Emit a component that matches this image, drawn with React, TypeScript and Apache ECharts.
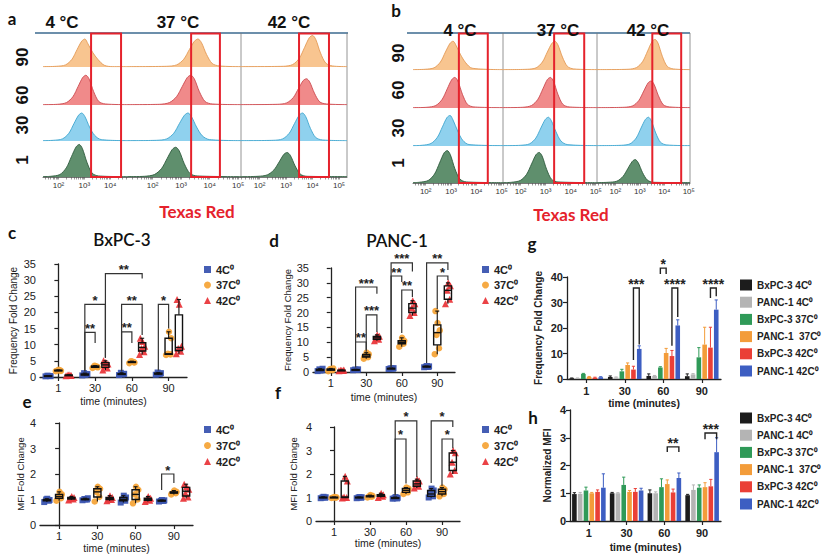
import React, { useEffect, useRef } from "react";
import * as echarts from "echarts";

const FONT = "'Liberation Sans', Arial, sans-serif";
const TITLE_FONT = "Lato, 'Open Sans', sans-serif";

// ---------- labels ----------
const TIMES = ["1", "30", "60", "90"];
const ROW_LABELS = ["90", "60", "30", "1"];
const TEMP_LABELS = ["4 °C", "37 °C", "42 °C"];
const DECADE_LABELS: Record<number, string> = { 2: "10²", 3: "10³", 4: "10⁴", 5: "10⁵" };
const GROUPS = ["4C⁰", "37C⁰", "42C⁰"];
const CELL_TEMP = ["BxPC-3 4C⁰", "PANC-1 4C⁰", "BxPC-3 37C⁰", "PANC-1  37C⁰", "BxPC-3 42C⁰", "PANC-1 42C⁰"];

// ---------- flow histograms: [log10 intensity, relative count], rows 90,60,30,1 ----------
const HIST_A_4C = [
  [[1.4,0.01],[1.92,0.02],[2.27,0.06],[2.52,0.22],[2.72,0.5],[2.9,0.74],[3.02,0.8],[3.14,0.66],[3.32,0.42],[3.52,0.22],[3.77,0.05],[4.1,0.01],[4.65,0.01]],
  [[1.4,0.01],[1.96,0.02],[2.31,0.07],[2.56,0.24],[2.76,0.53],[2.94,0.79],[3.06,0.85],[3.18,0.75],[3.36,0.38],[3.56,0.1],[3.81,0.03],[4.65,0.01]],
  [[1.4,0.01],[1.8,0.02],[2.15,0.06],[2.4,0.22],[2.6,0.5],[2.78,0.74],[2.9,0.8],[3.02,0.7],[3.2,0.4],[3.4,0.16],[3.65,0.04],[4.65,0.01]],
  [[1.4,0.01],[1.7,0.02],[2.05,0.07],[2.3,0.26],[2.5,0.58],[2.68,0.86],[2.8,0.93],[2.92,0.82],[3.1,0.42],[3.3,0.11],[3.55,0.03],[4.65,0.01]],
];
const HIST_A_37C = [
  [[1.1,0.01],[2.49,0.02],[2.84,0.06],[3.09,0.22],[3.29,0.5],[3.47,0.74],[3.59,0.8],[3.71,0.7],[3.89,0.36],[4.09,0.1],[4.34,0.03],[5.1,0.01]],
  [[1.1,0.01],[2.24,0.02],[2.59,0.07],[2.84,0.24],[3.04,0.53],[3.22,0.79],[3.34,0.85],[3.46,0.75],[3.64,0.38],[3.84,0.1],[4.09,0.03],[5.1,0.01]],
  [[1.1,0.01],[2.14,0.02],[2.49,0.06],[2.74,0.22],[2.94,0.5],[3.12,0.74],[3.24,0.8],[3.36,0.7],[3.54,0.4],[3.74,0.15],[3.99,0.04],[5.1,0.01]],
  [[1.1,0.01],[1.71,0.02],[2.06,0.07],[2.31,0.24],[2.51,0.53],[2.69,0.79],[2.81,0.85],[2.93,0.75],[3.11,0.38],[3.31,0.1],[3.56,0.03],[5.1,0.01]],
];
const HIST_A_42C = [
  [[1.3,0.01],[2.9,0.02],[3.25,0.07],[3.5,0.25],[3.7,0.56],[3.88,0.84],[4.0,0.9],[4.12,0.79],[4.3,0.4],[4.5,0.11],[4.75,0.03],[5.3,0.01]],
  [[1.3,0.01],[2.67,0.02],[3.02,0.06],[3.27,0.21],[3.47,0.47],[3.65,0.7],[3.77,0.75],[3.89,0.66],[4.07,0.34],[4.27,0.09],[4.52,0.03],[5.3,0.01]],
  [[1.3,0.01],[2.52,0.02],[2.87,0.06],[3.12,0.22],[3.32,0.5],[3.5,0.74],[3.62,0.8],[3.74,0.7],[3.92,0.36],[4.12,0.1],[4.37,0.03],[5.3,0.01]],
  [[1.3,0.01],[1.94,0.02],[2.29,0.06],[2.54,0.2],[2.74,0.43],[2.92,0.65],[3.04,0.7],[3.16,0.62],[3.34,0.32],[3.54,0.08],[3.79,0.02],[5.3,0.01]],
];
const HIST_B_4C = [
  [[1.5,0.01],[1.98,0.02],[2.33,0.06],[2.58,0.22],[2.78,0.5],[2.96,0.74],[3.08,0.8],[3.2,0.68],[3.38,0.42],[3.58,0.2],[3.83,0.05],[5.05,0.01]],
  [[1.5,0.01],[2.05,0.02],[2.4,0.07],[2.65,0.24],[2.85,0.53],[3.03,0.79],[3.15,0.85],[3.27,0.75],[3.45,0.38],[3.65,0.1],[3.9,0.03],[5.05,0.01]],
  [[1.5,0.01],[1.86,0.02],[2.21,0.07],[2.46,0.24],[2.66,0.53],[2.84,0.79],[2.96,0.85],[3.08,0.72],[3.26,0.42],[3.46,0.16],[3.71,0.04],[5.05,0.01]],
  [[1.5,0.01],[1.75,0.02],[2.1,0.07],[2.35,0.25],[2.55,0.56],[2.73,0.84],[2.85,0.9],[2.97,0.79],[3.15,0.4],[3.35,0.11],[3.6,0.03],[5.05,0.01]],
];
const HIST_B_37C = [
  [[1.3,0.01],[2.27,0.02],[2.62,0.06],[2.87,0.22],[3.07,0.5],[3.25,0.74],[3.37,0.8],[3.49,0.7],[3.67,0.36],[3.87,0.1],[4.12,0.03],[5.05,0.01]],
  [[1.3,0.01],[2.09,0.02],[2.44,0.07],[2.69,0.24],[2.89,0.53],[3.07,0.79],[3.19,0.85],[3.31,0.75],[3.49,0.38],[3.69,0.1],[3.94,0.03],[5.05,0.01]],
  [[1.3,0.01],[2.01,0.02],[2.36,0.06],[2.61,0.22],[2.81,0.5],[2.99,0.74],[3.11,0.8],[3.23,0.7],[3.41,0.4],[3.61,0.14],[3.86,0.04],[5.05,0.01]],
  [[1.3,0.01],[1.64,0.02],[1.99,0.07],[2.24,0.24],[2.44,0.53],[2.62,0.79],[2.74,0.85],[2.86,0.75],[3.04,0.38],[3.24,0.1],[3.49,0.03],[5.05,0.01]],
];
const HIST_B_42C = [
  [[1.25,0.01],[2.52,0.02],[2.87,0.07],[3.12,0.24],[3.32,0.53],[3.5,0.79],[3.62,0.85],[3.74,0.75],[3.92,0.38],[4.12,0.1],[4.37,0.03],[5.05,0.01]],
  [[1.25,0.01],[2.36,0.02],[2.71,0.06],[2.96,0.21],[3.16,0.47],[3.34,0.7],[3.46,0.75],[3.58,0.66],[3.76,0.34],[3.96,0.09],[4.21,0.03],[5.05,0.01]],
  [[1.25,0.01],[2.25,0.02],[2.6,0.06],[2.85,0.22],[3.05,0.5],[3.23,0.74],[3.35,0.8],[3.47,0.7],[3.65,0.36],[3.85,0.1],[4.1,0.03],[5.05,0.01]],
  [[1.25,0.01],[1.71,0.02],[2.06,0.05],[2.31,0.18],[2.51,0.4],[2.69,0.6],[2.81,0.65],[2.93,0.57],[3.11,0.29],[3.31,0.08],[3.56,0.02],[5.05,0.01]],
];
const GATES_A = [[3.26, 4.42], [3.35, 4.36], [3.49, 4.62]];
const GATES_B = [[3.31, 4.45], [3.34, 4.54], [3.51, 4.69]];

// ---------- c: BxPC-3 frequency fold change (replicates per time) ----------
const C_4C = [[0.2,0.3,0.4,0.25,0.35],[0.5,0.8,1.2,0.9,0.6],[0.6,0.9,1.3,1.0,0.8],[0.7,1.0,1.4,1.2,0.9]];
const C_37C = [[1.8,2.0,2.1,1.9,2.2],[2.8,3.2,3.5,3.0,3.4],[4.3,4.6,4.9,4.5,4.7],[6.8,7.0,7.2,12.0,14.0]];
const C_42C = [[0.4,0.5,0.6,0.5,0.7],[2.2,2.8,3.5,4.0,4.6,5.0],[7.0,7.8,8.8,9.5,11.0,12.0],[7.2,8.0,8.8,9.5,22.5,24.0]];
// ---------- d: PANC-1 frequency fold change ----------
const D_4C = [[0.3,0.6,0.9,1.1,0.5],[0.6,0.7,0.8,0.9,0.75],[1.0,1.1,1.2,1.3,1.2],[1.6,1.7,1.8,1.9,2.0]];
const D_37C = [[0.3,0.6,1.0,1.2,0.8],[4.5,5.0,5.5,6.0,6.5,5.2],[8.5,9.5,10.0,10.5,11.5],[6.0,8.0,12.5,14.0,16.5,20.5]];
const D_42C = [[0.4,0.5,0.6,0.7,0.5],[10.5,11.0,11.5,12.0,12.5],[19.0,20.0,21.5,23.0,24.0],[23.0,24.5,27.5,29.0,30.0]];
// ---------- e: BxPC-3 MFI fold change ----------
const E_4C = [[0.9,0.95,1.0,0.98,1.03],[0.97,1.0,1.02,1.05,1.0],[0.88,0.95,1.0,1.08,1.15],[0.92,0.94,0.95,0.97,0.98]];
const E_37C = [[0.95,1.05,1.12,1.2,1.3],[0.92,1.1,1.3,1.42,1.5],[0.85,1.0,1.2,1.38,1.5],[1.2,1.25,1.27,1.3,1.35]];
const E_42C = [[0.98,1.02,1.05,1.08,1.12],[0.95,1.0,1.03,1.08,1.15],[0.92,0.97,1.0,1.05,1.12],[1.05,1.1,1.25,1.4,1.5,1.6]];
// ---------- f: PANC-1 MFI fold change ----------
const F_4C = [[0.97,0.99,1.0,1.01,1.03],[0.97,0.99,1.0,1.01,1.02],[0.95,0.96,0.97,0.99,1.02],[1.0,1.05,1.15,1.3,1.38]];
const F_37C = [[0.98,0.99,1.0,1.01,1.02],[1.0,1.03,1.05,1.07,1.1],[1.15,1.22,1.3,1.38,1.42],[1.05,1.15,1.25,1.35,1.42]];
const F_42C = [[0.98,1.0,1.02,1.7,1.9],[1.0,1.05,1.08,1.12,1.18],[1.4,1.48,1.58,1.7,1.78],[2.0,2.15,2.5,2.9,3.0]];

// significance brackets: [timeL, groupL, timeR, groupR, yTop, yEndL, yEndR, label]
const BRACKETS_C: any[] = [
  [1,0,1,1,13.8,1.8,10.5,"**"],
  [1,0,1,2,22.5,1.8,6.0,"*"],
  [2,0,2,1,14.0,1.8,10.5,"**"],
  [2,0,2,2,22.5,1.8,13.0,"**"],
  [1,2,2,2,32.0,6.0,30.5,"**"],
  [3,0,3,1,22.5,2.0,15.0,"*"],
];
const BRACKETS_D: any[] = [
  [1,0,1,1,10.1,1.5,7.5,"**"],
  [1,0,1,2,28.6,10.1,26.3,"***"],
  [1,1,1,2,19.2,6.8,13.5,"***"],
  [2,0,2,1,32.3,1.8,30.3,"**"],
  [2,0,2,2,36.7,1.8,33.8,"***"],
  [2,1,2,2,27.6,13.1,25.2,"**"],
  [3,0,3,2,36.7,3.0,34.3,"**"],
  [3,1,3,2,32.3,21.2,31.0,"*"],
];
const BRACKETS_E: any[] = [[3,0,3,1,2.0,1.37,1.65,"*"]];
const BRACKETS_F: any[] = [
  [2,0,2,1,3.49,1.1,1.6,"*"],
  [2,0,2,2,4.26,1.1,1.87,"*"],
  [3,0,3,2,4.26,1.62,4.0,"*"],
  [3,1,3,2,3.49,1.49,3.1,"*"],
];

// ---------- g: frequency fold change, means and SD (6 series x 4 times) ----------
const G_MEANS = [
  [0.3,0.8,1.2,1.1],
  [0.3,0.6,1.2,1.8],
  [2.0,3.0,4.5,8.5],
  [0.8,5.5,10.2,13.5],
  [0.5,3.7,9.0,12.3],
  [0.7,11.8,21.0,27.2],
];
const G_ERR = [
  [0.1,0.4,0.8,0.9],
  [0.1,0.2,0.2,0.3],
  [0.2,0.8,0.3,3.8],
  [0.2,0.8,1.8,6.8],
  [0.2,1.3,2.2,8.0],
  [0.2,1.2,2.2,3.8],
];
// ---------- h: normalized MFI ----------
const H_MEANS = [
  [0.97,1.0,1.0,0.93],
  [0.98,1.0,1.0,1.12],
  [1.1,1.3,1.22,1.2],
  [1.0,1.05,1.33,1.22],
  [1.05,1.05,1.03,1.25],
  [1.2,1.1,1.55,2.48],
];
const H_ERR = [
  [0.05,0.03,0.12,0.03],
  [0.05,0.02,0.05,0.18],
  [0.12,0.28,0.3,0.1],
  [0.03,0.05,0.15,0.16],
  [0.07,0.12,0.12,0.25],
  [0.5,0.08,0.18,0.52],
];
// [time, seriesL, time, seriesR, yTop, yEndL, yEndR, label]
const BRACKETS_G: any[] = [
  [1,4,1,5,35.7,7.5,13.5,"***"],
  [2,2,2,3,43.5,41.2,41.2,"*"],
  [2,4,2,5,35.7,13.0,24.3,"****"],
  [3,4,3,5,35.7,31.8,32.5,"****"],
];
const BRACKETS_H: any[] = [
  [2,3,2,5,2.67,2.49,2.49,"**"],
  [3,3,3,5,3.17,2.95,2.95,"***"],
];

// ---------- styles ----------
const ROW_FILL = ["#f8c590", "#f08a8a", "#8fd1ee", "#5f8f6d"];
const ROW_STROKE = ["#e39a56", "#cc4b50", "#3fa6cf", "#2f5b3d"];
const GROUP_COLORS = ["#3b55b0", "#f6a53a", "#e9383c"];
const GROUP_SYMBOLS = ["rect", "circle", "triangle"];
const BAR_COLORS = ["#1c1c1c", "#b4b4b4", "#2f9a58", "#f39c3a", "#ea3f36", "#3d5ec2"];
const JITTER = [-0.07, 0.05, -0.02, 0.07, 0.01, -0.05];
const BAR_W = 4.6;
const BAR_GAP = 0.26;
const STEP = BAR_W * (1 + BAR_GAP);

const HIST_LAYOUT = [
  { data: [HIST_A_4C, HIST_A_37C, HIST_A_42C], gates: GATES_A,
    sub: [[43,127],[127,241],[241,347]], range: [[1.4,4.65],[1.1,5.1],[1.3,5.3]],
    base: [67,105,141,177], rowH: 35, top: 33 },
  { data: [HIST_B_4C, HIST_B_37C, HIST_B_42C], gates: GATES_B,
    sub: [[413,503],[503,597],[597,690]], range: [[1.5,5.05],[1.3,5.05],[1.25,5.05]],
    base: [70,108,146,183], rowH: 36, top: 33 },
];

const quant = (s: number[], p: number) => {
  const pos = (s.length - 1) * p;
  const lo = Math.floor(pos), hi = Math.ceil(pos);
  return s[lo] + (s[hi] - s[lo]) * (pos - lo);
};

const minorTicks = (min: number, max: number) => {
  const out: number[] = [];
  for (let d = 1; d <= 5; d++) for (let k = 1; k <= 9; k++) {
    const v = d + Math.log10(k);
    if (v >= min && v <= max) out.push(v);
  }
  return out;
};

function buildOption() {
  const grid: any[] = [], xAxis: any[] = [], yAxis: any[] = [], series: any[] = [];
  const addGrid = (g: any) => { grid.push({ containLabel: false, outerBoundsMode: "none", ...g }); return grid.length - 1; };

  // ---- flow histograms ----
  HIST_LAYOUT.forEach((P) => {
    P.sub.forEach((sx, s) => {
      const [mn, mx] = P.range[s];
      P.base.forEach((b, r) => {
        const gi = addGrid({ left: sx[0], width: sx[1] - sx[0], top: b - P.rowH, height: P.rowH });
        const bottom = r === 3;
        xAxis.push({
          gridIndex: gi, type: "value", min: mn, max: mx, show: bottom,
          splitLine: { show: false },
          axisLine: { show: bottom, lineStyle: { color: "#555", width: 0.8 } },
          axisTick: { show: bottom, customValues: minorTicks(mn, mx), length: 2.5, lineStyle: { color: "#555", width: 0.6 } },
          axisLabel: {
            show: bottom, customValues: [2, 3, 4, 5].filter((v) => v >= mn && v <= mx),
            formatter: (v: number) => DECADE_LABELS[Math.round(v)] || "",
            fontSize: 8, margin: 4, color: "#333", fontFamily: FONT,
          },
        });
        yAxis.push({ gridIndex: gi, type: "value", min: 0, max: 1, show: false });
        const ai = xAxis.length - 1;
        series.push({
          type: "line", xAxisIndex: ai, yAxisIndex: ai, data: P.data[s][r], smooth: 0.3,
          symbol: "none", silent: true,
          lineStyle: { color: ROW_STROKE[r], width: 0.9 },
          areaStyle: { color: ROW_FILL[r], opacity: 1 },
        });
      });
      // gate overlay
      const gBottom = P.base[3];
      const gi = addGrid({ left: sx[0], width: sx[1] - sx[0], top: P.top + 0.5, height: gBottom - P.top - 0.5 });
      xAxis.push({ gridIndex: gi, type: "value", min: mn, max: mx, show: false });
      yAxis.push({ gridIndex: gi, type: "value", min: 0, max: 1, show: false });
      const ai = xAxis.length - 1;
      const [g0, g1] = P.gates[s];
      series.push({
        type: "line", xAxisIndex: ai, yAxisIndex: ai, data: [[g0, 0]], symbol: "none", z: 10,
        lineStyle: { opacity: 0 }, silent: true,
        markArea: {
          silent: true, z: 10,
          itemStyle: { color: "rgba(0,0,0,0)", borderColor: "#e5222c", borderWidth: 2 },
          data: [[{ coord: [g0, 0] }, { coord: [g1, 1] }]],
        },
      });
    });
  });

  // ---- box / scatter panels ----
  const axisCommon = {
    axisLine: { show: true, lineStyle: { color: "#222", width: 1.3 } },
    axisTick: { show: true, length: 4, lineStyle: { color: "#222", width: 1.2 } },
    splitLine: { show: false },
  };
  const scatterPanels = [
    { grid: { left: 40, width: 147, top: 264, height: 113 }, yMax: 35, yInt: 5, yName: "Frequency Fold Change", yFont: 10,
      yGap: 22, xGap: 18, goff: 0.28, data: [C_4C, C_37C, C_42C], brackets: BRACKETS_C },
    { grid: { left: 313, width: 142, top: 268, height: 104 }, yMax: 35, yInt: 5, yName: "Frequency Fold Change", yFont: 9.5,
      yGap: 20, xGap: 19, goff: 0.3, data: [D_4C, D_37C, D_42C], brackets: BRACKETS_D },
    { grid: { left: 40, width: 153, top: 423, height: 102 }, yMax: 4, yInt: 1, yName: "MFI Fold Change", yFont: 9.5,
      yGap: 15, xGap: 17, goff: 0.32, data: [E_4C, E_37C, E_42C], brackets: BRACKETS_E },
    { grid: { left: 316, width: 144, top: 427, height: 94 }, yMax: 4, yInt: 1, yName: "MFI Fold Change", yFont: 9.5,
      yGap: 18, xGap: 16, goff: 0.3, data: [F_4C, F_37C, F_42C], brackets: BRACKETS_F },
  ];
  scatterPanels.forEach((P) => {
    const gi = addGrid(P.grid);
    xAxis.push({
      gridIndex: gi, type: "category", data: TIMES, boundaryGap: true, ...axisCommon,
      axisTick: { ...axisCommon.axisTick, alignWithLabel: true },
      axisLabel: { fontSize: 11, margin: 5, color: "#222", fontFamily: FONT },
      name: "time (minutes)", nameLocation: "middle", nameGap: P.xGap,
      nameTextStyle: { fontSize: 10.5, color: "#222", fontFamily: FONT, verticalAlign: "top" },
    });
    xAxis.push({ gridIndex: gi, type: "value", min: -0.5, max: 3.5, show: false });
    const xv = xAxis.length - 1;
    yAxis.push({
      gridIndex: gi, type: "value", min: 0, max: P.yMax, interval: P.yInt, ...axisCommon,
      axisLabel: { fontSize: 11, margin: 4, color: "#222", fontFamily: FONT },
      name: P.yName, nameLocation: "middle", nameGap: P.yGap,
      nameTextStyle: { fontSize: P.yFont, color: "#222", fontFamily: FONT },
    });
    const yi = yAxis.length - 1;
    const boxes: number[][] = [];
    P.data.forEach((grp, g) => {
      const pts: number[][] = [];
      grp.forEach((vals, t) => {
        const xBase = t + (g - 1) * P.goff;
        vals.forEach((v, i) => pts.push([xBase + JITTER[i % JITTER.length], v]));
        const s = [...vals].sort((a, b) => a - b);
        boxes.push([xBase, s[0], quant(s, 0.25), quant(s, 0.5), quant(s, 0.75), s[s.length - 1]]);
      });
      series.push({
        type: "scatter", name: GROUPS[g], xAxisIndex: xv, yAxisIndex: yi, data: pts,
        symbol: GROUP_SYMBOLS[g], symbolSize: g === 0 ? 6 : g === 1 ? 6.5 : 7, z: 2,
        itemStyle: { color: GROUP_COLORS[g], opacity: 0.95 }, silent: true,
      });
    });
    series.push({
      type: "custom", xAxisIndex: xv, yAxisIndex: yi, data: boxes, z: 3, silent: true, clip: false,
      renderItem: (_p: any, api: any) => {
        const x = api.value(0);
        const pMin = api.coord([x, api.value(1)]);
        const pQ1 = api.coord([x, api.value(2)]);
        const pMed = api.coord([x, api.value(3)]);
        const pQ3 = api.coord([x, api.value(4)]);
        const pMax = api.coord([x, api.value(5)]);
        const hw = 3.6, cx = pQ1[0];
        const st = { stroke: "#111", lineWidth: 1.4, fill: "none" };
        return {
          type: "group",
          children: [
            { type: "rect", shape: { x: cx - hw, y: pQ3[1], width: 2 * hw, height: Math.max(pQ1[1] - pQ3[1], 0.6) }, style: st },
            { type: "line", shape: { x1: cx - hw, y1: pMed[1], x2: cx + hw, y2: pMed[1] }, style: st },
            { type: "line", shape: { x1: cx, y1: pQ3[1], x2: cx, y2: pMax[1] }, style: { ...st, lineWidth: 1.1 } },
            { type: "line", shape: { x1: cx, y1: pQ1[1], x2: cx, y2: pMin[1] }, style: { ...st, lineWidth: 1.1 } },
            { type: "line", shape: { x1: cx - 2, y1: pMax[1], x2: cx + 2, y2: pMax[1] }, style: { ...st, lineWidth: 1.1 } },
          ],
        };
      },
    });
    const br = P.brackets;
    series.push({
      type: "custom", xAxisIndex: xv, yAxisIndex: yi, z: 4, silent: true, clip: false,
      data: br.map((b: any) => [b[0] + (b[1] - 1) * P.goff, b[4], b[2] + (b[3] - 1) * P.goff, b[5], b[6]]),
      renderItem: (params: any, api: any) => {
        const xL = api.value(0), top = api.value(1), xR = api.value(2);
        const a = api.coord([xL, api.value(3)]);
        const b = api.coord([xL, top]);
        const c = api.coord([xR, top]);
        const d = api.coord([xR, api.value(4)]);
        const label = br[params.dataIndex][7];
        return {
          type: "group",
          children: [
            { type: "polyline", shape: { points: [a, b, c, d] }, style: { stroke: "#333", lineWidth: 1.2, fill: "none" } },
            { type: "text", x: (b[0] + c[0]) / 2, y: b[1] - 4,
              style: { text: label, fill: "#222", font: `bold 13px ${FONT}`, lineHeight: 10, align: "center", verticalAlign: "middle", textAlign: "center", textVerticalAlign: "middle" } },
          ],
        };
      },
    });
  });

  // ---- bar panels ----
  const barPanels = [
    { grid: { left: 567, width: 154, top: 277, height: 102 }, yMax: 40, yInt: 10, yName: "Frequency Fold Change",
      yGap: 24, xGap: 18, means: G_MEANS, err: G_ERR, brackets: BRACKETS_G },
    { grid: { left: 570, width: 151, top: 410, height: 111 }, yMax: 4, yInt: 1, yName: "Normalized MFI",
      yGap: 18, xGap: 20, means: H_MEANS, err: H_ERR, brackets: BRACKETS_H },
  ];
  barPanels.forEach((P) => {
    const gi = addGrid(P.grid);
    xAxis.push({
      gridIndex: gi, type: "category", data: TIMES, boundaryGap: true, ...axisCommon,
      axisTick: { ...axisCommon.axisTick, alignWithLabel: true },
      axisLabel: { fontSize: 11, fontWeight: "bold", margin: 6, color: "#222", fontFamily: FONT },
      name: "time (minutes)", nameLocation: "middle", nameGap: P.xGap,
      nameTextStyle: { fontSize: 10.5, fontWeight: "bold", color: "#222", fontFamily: FONT, verticalAlign: "top" },
    });
    const xi = xAxis.length - 1;
    yAxis.push({
      gridIndex: gi, type: "value", min: 0, max: P.yMax, interval: P.yInt, ...axisCommon,
      axisLabel: { fontSize: 11, fontWeight: "bold", margin: 4, color: "#222", fontFamily: FONT },
      name: P.yName, nameLocation: "middle", nameGap: P.yGap,
      nameTextStyle: { fontSize: 10, fontWeight: "bold", color: "#222", fontFamily: FONT },
    });
    const yi = yAxis.length - 1;
    P.means.forEach((m, k) => {
      series.push({
        type: "bar", name: CELL_TEMP[k], xAxisIndex: xi, yAxisIndex: yi, data: m,
        barWidth: BAR_W, barGap: `${BAR_GAP * 100}%`, itemStyle: { color: BAR_COLORS[k] }, silent: true, z: 2,
      });
    });
    const errData: number[][] = [];
    P.means.forEach((m, k) => m.forEach((v, t) => errData.push([t, v, v + P.err[k][t], k])));
    series.push({
      type: "custom", xAxisIndex: xi, yAxisIndex: yi, data: errData, z: 3, silent: true, clip: false,
      renderItem: (_p: any, api: any) => {
        const k = api.value(3);
        const p0 = api.coord([api.value(0), api.value(1)]);
        const p1 = api.coord([api.value(0), api.value(2)]);
        const x = p0[0] + (k - 2.5) * STEP;
        const st = { stroke: BAR_COLORS[k], lineWidth: 1 };
        return {
          type: "group",
          children: [
            { type: "line", shape: { x1: x, y1: p0[1], x2: x, y2: p1[1] }, style: st },
            { type: "line", shape: { x1: x - 1.6, y1: p1[1], x2: x + 1.6, y2: p1[1] }, style: st },
          ],
        };
      },
    });
    const br = P.brackets;
    series.push({
      type: "custom", xAxisIndex: xi, yAxisIndex: yi, z: 4, silent: true, clip: false,
      data: br.map((b: any) => [b[0], b[4], b[2], b[5], b[6], b[1], b[3]]),
      renderItem: (params: any, api: any) => {
        const tL = api.value(0), top = api.value(1), tR = api.value(2);
        const kL = api.value(5), kR = api.value(6);
        const oL = (kL - 2.5) * STEP, oR = (kR - 2.5) * STEP;
        const a0 = api.coord([tL, api.value(3)]);
        const b0 = api.coord([tL, top]);
        const c0 = api.coord([tR, top]);
        const d0 = api.coord([tR, api.value(4)]);
        const pts = [[a0[0] + oL, a0[1]], [b0[0] + oL, b0[1]], [c0[0] + oR, c0[1]], [d0[0] + oR, d0[1]]];
        const label = br[params.dataIndex][7];
        return {
          type: "group",
          children: [
            { type: "polyline", shape: { points: pts }, style: { stroke: "#222", lineWidth: 1.4, fill: "none" } },
            { type: "text", x: (pts[1][0] + pts[2][0]) / 2, y: pts[1][1] - 4,
              style: { text: label, fill: "#222", font: `bold 14px ${FONT}`, lineHeight: 10, align: "center", verticalAlign: "middle", textAlign: "center", textVerticalAlign: "middle" } },
          ],
        };
      },
    });
  });

  // ---- legends ----
  const smallLegend = (left: number, top: number, gap: number) => ({
    left, top, orient: "vertical", itemWidth: 7, itemHeight: 7, itemGap: gap, padding: 0, selectedMode: false,
    data: GROUPS.map((n, i) => ({ name: n, icon: GROUP_SYMBOLS[i] })),
    textStyle: { fontSize: 11, fontWeight: "bold", color: "#222", fontFamily: FONT, lineHeight: 13 },
  });
  const bigLegend = (top: number) => ({
    left: 740, top, orient: "vertical", itemWidth: 12, itemHeight: 11, itemGap: 3.2, padding: 0, selectedMode: false,
    data: CELL_TEMP.map((n) => ({ name: n, icon: "rect" })),
    textStyle: { fontSize: 10, fontWeight: "bold", color: "#222", fontFamily: FONT, lineHeight: 14 },
  });
  const legend = [
    smallLegend(204, 263, 2.5), smallLegend(482, 263, 2.5),
    smallLegend(204, 423, 3), smallLegend(482, 423, 3),
    bigLegend(278), bigLegend(411),
  ];

  // ---- annotations ----
  const txt = (text: string, x: number, y: number, font: string, fill = "#111", rotation = 0) => ({
    type: "text", x, y, rotation, z: 20, silent: true,
    style: { text, fill, font, textAlign: "center", textVerticalAlign: "middle", align: "center", verticalAlign: "middle" },
  });
  const ln = (x1: number, y1: number, x2: number, y2: number, stroke: string, w: number) => ({
    type: "line", z: 1, silent: true, shape: { x1, y1, x2, y2 }, style: { stroke, lineWidth: w },
  });
  const elements: any[] = [];
  const LETTER = `bold 17px ${TITLE_FONT}`;
  [["a", 12, 18], ["b", 396, 10], ["c", 12, 232], ["d", 274, 240], ["e", 27, 401], ["f", 278, 392], ["g", 532, 243], ["h", 533, 417]]
    .forEach(([l, x, y]) => elements.push(txt(l as string, x as number, y as number, LETTER)));
  const TEMP = `bold 17px ${FONT}`;
  [62, 178, 289].forEach((x, i) => elements.push(txt(TEMP_LABELS[i], x, 22, TEMP)));
  [460, 558, 648].forEach((x, i) => elements.push(txt(TEMP_LABELS[i], x, 30, TEMP)));
  const ROWF = `bold 17px ${FONT}`;
  [57, 95, 125, 160].forEach((y, i) => elements.push(txt(ROW_LABELS[i], 22, y, ROWF, "#111", Math.PI / 2)));
  [53, 90, 128, 163].forEach((y, i) => elements.push(txt(ROW_LABELS[i], 398, y, ROWF, "#111", Math.PI / 2)));
  elements.push(txt("Texas Red", 197, 211, `bold 17px ${TITLE_FONT}`, "#e5222c"));
  elements.push(txt("Texas Red", 571, 214, `bold 17px ${TITLE_FONT}`, "#e5222c"));
  elements.push(txt("BxPC-3", 122, 239, `600 17px ${TITLE_FONT}`, "#111"));
  elements.push(txt("PANC-1", 397, 240, `600 17px ${TITLE_FONT}`, "#111"));
  elements.push(ln(35, 33, 348, 33, "#3b6a8f", 1.5));
  elements.push(ln(407, 33, 690, 33, "#3b6a8f", 1.5));
  [241, 347].forEach((x) => elements.push(ln(x, 33, x, 177, "#7a7a7a", 0.8)));
  [503, 597, 690].forEach((x) => elements.push(ln(x, 33, x, 183, "#7a7a7a", 0.8)));

  return {
    animation: false,
    backgroundColor: "#ffffff",
    textStyle: { fontFamily: FONT },
    grid, xAxis, yAxis, series, legend,
    graphic: { elements },
  };
}

export default function App() {
  const ref = useRef<HTMLDivElement>(null);
  useEffect(() => {
    document.body.style.margin = "0";
    const chart = echarts.init(ref.current!, undefined, { renderer: "svg" });
    chart.setOption(buildOption() as any);
    return () => chart.dispose();
  }, []);
  return <div ref={ref} style={{ position: "absolute", left: 0, top: 0, width: 824, height: 556, background: "#fff" }} />;
}
